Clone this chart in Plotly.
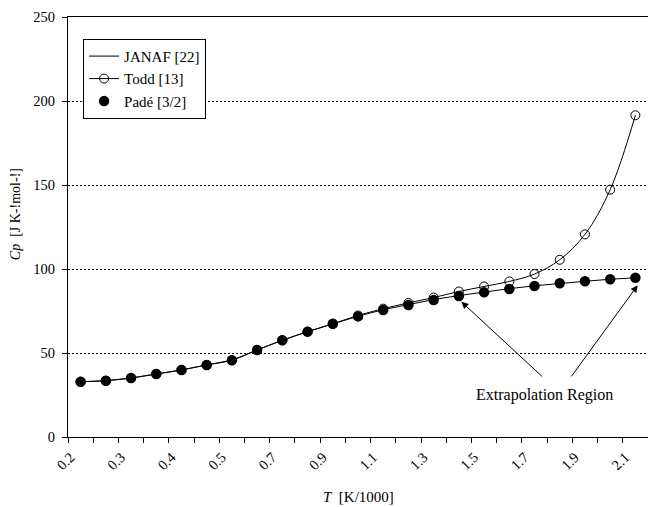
import plotly.graph_objects as go

# ---- data ----
T_labels = ["0.2", "0.25", "0.3", "0.35", "0.4", "0.45", "0.5", "0.6", "0.7", "0.8",
            "0.9", "1.0", "1.1", "1.2", "1.3", "1.4", "1.5", "1.6", "1.7", "1.8",
            "1.9", "2.0", "2.1"]
janaf = [32.9, 33.5, 35.1, 37.5, 39.9, 42.9, 45.7, 51.8, 57.6, 62.7, 67.4, 71.9,
         75.8, 78.9, 81.8, 84.2, 86.4, 88.3, 90.0, 91.5, 92.7, 93.9, 94.8]
todd = [32.9, 33.5, 35.1, 37.5, 39.9, 42.9, 45.7, 51.8, 57.6, 62.7, 67.4, 72.3,
        76.4, 79.8, 83.0, 86.6, 89.6, 92.6, 97.0, 105.5, 120.6, 147.2, 191.5]
pade = [32.9, 33.5, 35.1, 37.5, 39.9, 42.9, 45.7, 51.8, 57.6, 62.7, 67.4, 71.8,
        75.6, 78.6, 81.5, 83.9, 86.1, 88.1, 89.9, 91.5, 92.7, 93.9, 94.8]
y_ticks = [0, 50, 100, 150, 200, 250]

idx = list(range(len(T_labels)))
FONT = "Liberation Serif, Times New Roman, serif"

fig = go.Figure()
fig.add_trace(go.Scatter(x=idx, y=janaf, mode="lines", name="JANAF [22]",
                         line=dict(color="black", width=1)))
fig.add_trace(go.Scatter(x=idx, y=todd, mode="lines+markers", name="Todd [13]",
                         line=dict(color="black", width=1, shape="spline"),
                         marker=dict(symbol="circle-open", size=9, color="black",
                                     line=dict(width=1, color="black"))))
fig.add_trace(go.Scatter(x=idx, y=pade, mode="markers", name="Padé [3/2]",
                         marker=dict(symbol="circle", size=10.5, color="black")))

fig.update_layout(
    width=648, height=507,
    margin=dict(l=68, r=0, t=17, b=70),
    paper_bgcolor="white", plot_bgcolor="white",
    font=dict(family=FONT, color="black", size=14),
    showlegend=True,
    legend=dict(x=0.026, y=0.948, xanchor="left", yanchor="top",
                bgcolor="white", bordercolor="black", borderwidth=1,
                font=dict(size=15, family=FONT), tracegroupgap=0),
)

fig.update_xaxes(
    range=[-0.5, len(idx) - 0.5],
    tickmode="array", tickvals=[i - 0.4 for i in idx[::2]], ticktext=T_labels[::2],
    tickangle=-45, ticks="", showgrid=False, zeroline=False,
    showline=True, linecolor="black", linewidth=1, mirror=True,
    tickfont=dict(size=14.5, family=FONT), ticklabelstandoff=5,
    minor=dict(tickmode="array", tickvals=[i - 0.5 for i in range(len(idx) + 1)],
               ticks="outside", ticklen=5, tickcolor="black", tickwidth=1,
               showgrid=False),
)
fig.update_yaxes(
    range=[0, 250], tickmode="array", tickvals=y_ticks,
    ticks="outside", ticklen=5, tickcolor="black",
    showgrid=True, gridcolor="black", gridwidth=1, griddash="2px,2px",
    zeroline=False, showline=True, linecolor="black", linewidth=1,
    tickfont=dict(size=14.5, family=FONT), ticklabelstandoff=4,
)

annotations = [
    dict(xref="paper", yref="paper", x=0.5, y=-0.143, showarrow=False,
         text="<i>T</i>  [K/1000]", font=dict(size=15, family=FONT),
         xanchor="center", yanchor="middle"),
    dict(xref="paper", yref="paper", x=-0.09, y=0.53, showarrow=False,
         text="<i>Cp</i>  [J K-!mol-!]", textangle=-90,
         font=dict(size=14, family=FONT), xanchor="center", yanchor="middle"),
    dict(xref="x", yref="y", x=18.39, y=25, showarrow=False,
         text="Extrapolation Region", font=dict(size=16, family=FONT),
         xanchor="center", yanchor="middle"),
    dict(xref="x", yref="y", x=15.1, y=80.5, axref="x", ayref="y",
         ax=18.36, ay=35.2, showarrow=True, arrowhead=2, arrowsize=1.4,
         arrowwidth=1, arrowcolor="black", text=""),
    dict(xref="x", yref="y", x=22.09, y=90.3, axref="x", ayref="y",
         ax=19.42, ay=35.2, showarrow=True, arrowhead=2, arrowsize=1.4,
         arrowwidth=1, arrowcolor="black", text=""),
]
fig.update_layout(annotations=annotations)

fig.write_html("out.html")
